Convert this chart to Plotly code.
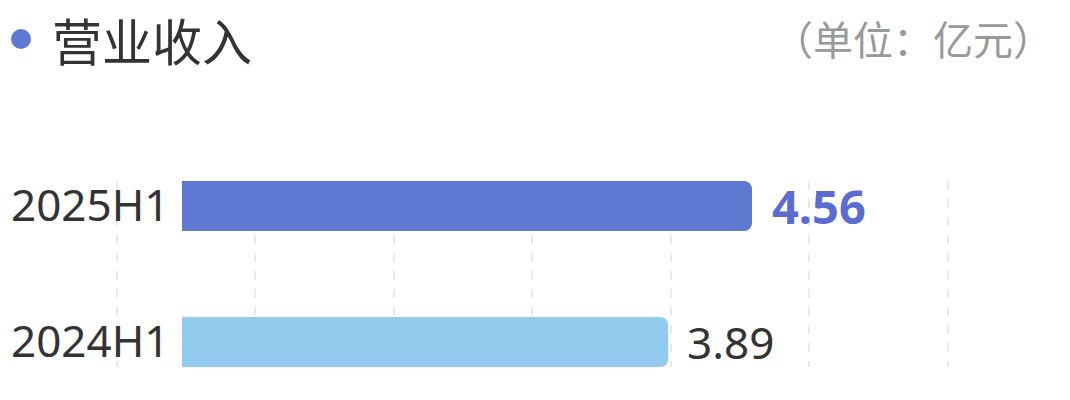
import plotly.graph_objects as go

categories = ["2024H1", "2025H1"]
values = [3.89, 4.56]
bar_colors = ["#93CBEF", "#5F79D2"]
label_colors = ["#333333", "#5B6BCF"]
label_sizes = [44, 47]
title_text = "营业收入"
unit_text = "（单位：亿元）"

CJK = "Noto Sans CJK SC, Noto Sans, sans-serif"
LAT = "Noto Sans, sans-serif"

labels = [(" \u200a<b>%.2f</b>" if i == len(values) - 1 else " \u200a%.2f") % v for i, v in enumerate(values)]

fig = go.Figure()
fig.add_trace(go.Bar(
    y=categories,
    x=values,
    orientation="h",
    width=0.368,
    marker=dict(color=bar_colors, line=dict(width=0)),
    text=labels,
    textposition="outside",
    constraintext="none",
    textfont=dict(family=LAT, size=label_sizes, color=label_colors),
    cliponaxis=False,
    hoverinfo="skip",
))

fig.update_layout(
    width=1070,
    height=400,
    margin=dict(l=0, r=10, t=173, b=41),
    paper_bgcolor="white",
    plot_bgcolor="white",
    showlegend=False,
    barcornerradius=8,
    xaxis=dict(
        range=[-1.392, 7.088],
        tick0=-0.524,
        dtick=1.108,
        showgrid=True,
        gridcolor="#E9E9E9",
        gridwidth=2,
        griddash="dash",
        zeroline=False,
        showline=False,
        showticklabels=False,
        ticks="",
    ),
    yaxis=dict(
        type="category",
        range=[-0.184, 1.184],
        showgrid=False,
        zeroline=False,
        showline=False,
        ticks="",
        ticklabelposition="inside",
        ticklabeloverflow="allow",
        tickfont=dict(family=LAT, size=44, color="#333333"),
    ),
    annotations=[
        dict(text=title_text, xref="paper", yref="paper", x=0, xshift=42, y=1, yshift=142,
             xanchor="left", yanchor="middle", showarrow=False,
             font=dict(family=CJK, size=50, color="#333333")),
        dict(text=unit_text, xref="paper", yref="paper", x=1, xshift=-13, y=1, yshift=143,
             xanchor="right", yanchor="middle", showarrow=False,
             font=dict(family=CJK, size=40, color="#999999")),
    ],
    shapes=[
        dict(type="circle", xref="paper", yref="paper", xsizemode="pixel", ysizemode="pixel",
             xanchor=0, yanchor=1, x0=3, x1=23, y0=132, y1=152,
             fillcolor="#5F79D2", line=dict(width=0)),
    ],
)

fig.write_html("out.html")
